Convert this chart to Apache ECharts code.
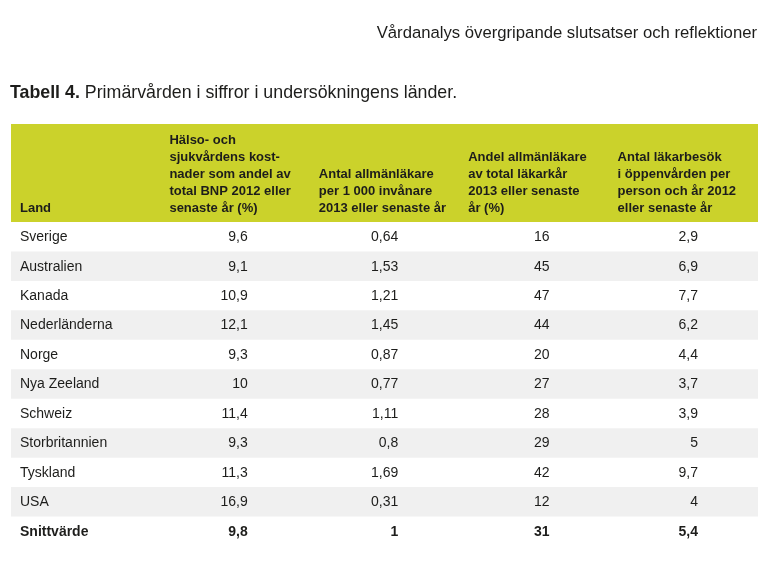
<!DOCTYPE html>
<html>
<head>
<meta charset="utf-8">
<script src="https://cdn.jsdelivr.net/npm/echarts@6/dist/echarts.min.js"></script>
<style>
html,body{margin:0;padding:0;background:#fff;}
#chart{width:772px;height:565px;}
</style>
</head>
<body>
<div id="chart"></div>
<script>
// ---- data ----
const pageHeader = 'Vårdanalys övergripande slutsatser och reflektioner';
const tableLabel = 'Tabell 4.';
const tableTitle = 'Primärvården i siffror i undersökningens länder.';
const columnHeaders = [
  'Land',
  'Hälso- och\nsjukvårdens kost-\nnader som andel av\ntotal BNP 2012 eller\nsenaste år (%)',
  'Antal allmänläkare\nper 1 000 invånare\n2013 eller senaste år',
  'Andel allmänläkare\nav total läkarkår\n2013 eller senaste\når (%)',
  'Antal läkarbesök\ni öppenvården per\nperson och år 2012\neller senaste år'
];
const countries = ['Sverige', 'Australien', 'Kanada', 'Nederländerna', 'Norge', 'Nya Zeeland', 'Schweiz', 'Storbritannien', 'Tyskland', 'USA'];
const healthCostShareGDP = [9.6, 9.1, 10.9, 12.1, 9.3, 10, 11.4, 9.3, 11.3, 16.9];
const gpPer1000 = [0.64, 1.53, 1.21, 1.45, 0.87, 0.77, 1.11, 0.8, 1.69, 0.31];
const gpSharePct = [16, 45, 47, 44, 20, 27, 28, 29, 42, 12];
const visitsPerPerson = [2.9, 6.9, 7.7, 6.2, 4.4, 3.7, 3.9, 5, 9.7, 4];
const averageLabel = 'Snittvärde';
const averages = [9.8, 1, 31, 5.4];

// ---- build table ----
const fmt = v => String(v).replace('.', ',');
const rowNames = countries.concat([averageLabel]);
const colKeys = columnHeaders.map((h, i) => 'c' + i);
const valueCols = [healthCostShareGDP, gpPer1000, gpSharePct, visitsPerPerson];
const cells = [];
rowNames.forEach((name, r) => {
  const isAvg = r === countries.length;
  cells.push([0, r, name, isAvg ? 1 : 0]);
  for (let c = 0; c < valueCols.length; c++) {
    const v = isAvg ? averages[c] : valueCols[c][r];
    cells.push([c + 1, r, fmt(v), isAvg ? 1 : 0]);
  }
});

// ---- styles ----
const FONT = '"Liberation Sans", Arial, sans-serif';
const TEXT = '#1d1d1b';
const HEADER_BG = '#cbd22b';
const STRIPE = '#f0f0f0';
const HEADER_H = 98;
const PAD_LEFT = 9;
const rightPad = [0, 62, 61, 59, 60];

const chart = echarts.init(document.getElementById('chart'), null, {renderer: 'canvas'});
chart.setOption({
  animation: false,
  backgroundColor: '#fff',
  title: [
    {
      text: pageHeader, right: 10, top: 20,
      textStyle: {fontFamily: FONT, fontWeight: 'normal', fontSize: 16.7, color: TEXT}
    },
    {
      text: '{b|' + tableLabel + '} {n|' + tableTitle + '}', left: 5, top: 79,
      textStyle: {
        rich: {
          b: {fontFamily: FONT, fontWeight: 'bold', fontSize: 17.8, color: TEXT},
          n: {fontFamily: FONT, fontWeight: 'normal', fontSize: 17.8, color: TEXT}
        }
      }
    }
  ],
  grid: {left: 11, right: 14, top: 222, bottom: 19},
  xAxis: {type: 'category', data: colKeys, show: false},
  yAxis: {type: 'category', data: rowNames, inverse: true, show: false},
  series: [
    {
      type: 'custom', name: 'stripes', silent: true, z: 1,
      data: rowNames.map((n, i) => [0, i]),
      renderItem: function (params, api) {
        const r = api.value(1);
        const cs = params.coordSys;
        const p = api.coord([0, r]);
        const h = api.size([0, 1])[1];
        return {
          type: 'rect',
          shape: {x: cs.x, y: p[1] - h / 2, width: cs.width, height: h},
          style: {fill: r % 2 === 1 ? STRIPE : 'rgba(0,0,0,0)'}
        };
      }
    },
    {
      type: 'custom', name: 'header', silent: true, z: 2,
      data: columnHeaders.map((h, i) => [i, 0, h]),
      renderItem: function (params, api) {
        const c = api.value(0);
        const cs = params.coordSys;
        const p = api.coord([c, 0]);
        const bw = api.size([1, 0])[0];
        const children = [];
        if (c === 0) {
          children.push({
            type: 'rect', z2: 0,
            shape: {x: cs.x, y: cs.y - HEADER_H, width: cs.width, height: HEADER_H},
            style: {fill: HEADER_BG}
          });
        }
        children.push({
          type: 'text', z2: 5,
          style: {
            text: columnHeaders[c],
            x: p[0] - bw / 2 + PAD_LEFT,
            y: cs.y - 5,
            align: 'left', verticalAlign: 'bottom',
            font: 'bold 13px ' + FONT, lineHeight: 17, fill: TEXT
          }
        });
        return {type: 'group', children: children};
      }
    },
    {
      type: 'custom', name: 'cells', silent: true, z: 3,
      data: cells,
      renderItem: function (params, api) {
        const c = api.value(0), r = api.value(1);
        const item = cells[params.dataIndex];
        const p = api.coord([c, r]);
        const bw = api.size([1, 0])[0];
        const x = c === 0 ? p[0] - bw / 2 + PAD_LEFT : p[0] + bw / 2 - rightPad[c];
        return {
          type: 'text',
          style: {
            text: item[2], x: x, y: p[1] + 0.5,
            align: c === 0 ? 'left' : 'right', verticalAlign: 'middle',
            font: (item[3] ? 'bold ' : '') + '14px ' + FONT, fill: TEXT
          }
        };
      }
    }
  ]
});
</script>
</body>
</html>
